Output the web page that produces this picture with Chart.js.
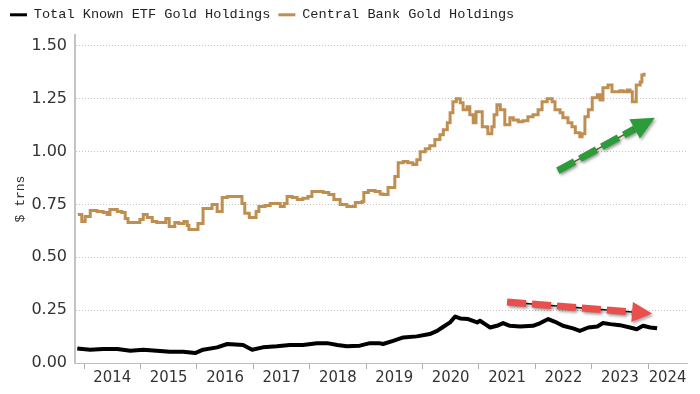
<!DOCTYPE html>
<html><head><meta charset="utf-8">
<script src="https://cdn.jsdelivr.net/npm/chart.js@4.4.1/dist/chart.umd.min.js"></script>
<style>html,body{margin:0;padding:0;background:#fff;}#wrap{width:700px;height:394px;}</style>
</head><body><div id="wrap"><canvas id="c" width="700" height="394"></canvas></div>
<script>
// ---- data (decimal years, $ trillions) ----
const seriesNames = ['Total Known ETF Gold Holdings', 'Central Bank Gold Holdings'];
const etfDates = [2013.88,2014.11,2014.34,2014.59,2014.82,2015.05,2015.29,2015.52,2015.76,2015.97,2016.11,2016.36,2016.54,2016.82,2016.98,2017.17,2017.42,2017.65,2017.88,2018.13,2018.31,2018.49,2018.66,2018.89,2019.07,2019.25,2019.30,2019.48,2019.66,2019.90,2020.13,2020.26,2020.35,2020.49,2020.58,2020.67,2020.81,2020.97,2021.02,2021.11,2021.20,2021.32,2021.43,2021.55,2021.73,2021.96,2022.09,2022.23,2022.35,2022.49,2022.67,2022.79,2022.94,2023.10,2023.20,2023.33,2023.50,2023.68,2023.80,2023.91,2024.04,2024.16];
const etfValues = [0.069,0.063,0.066,0.066,0.058,0.063,0.058,0.053,0.053,0.047,0.063,0.074,0.090,0.085,0.063,0.074,0.079,0.085,0.085,0.093,0.094,0.085,0.079,0.082,0.094,0.093,0.090,0.105,0.121,0.126,0.137,0.152,0.168,0.192,0.220,0.211,0.208,0.192,0.200,0.184,0.168,0.176,0.189,0.176,0.173,0.176,0.189,0.208,0.195,0.176,0.164,0.152,0.168,0.173,0.189,0.184,0.179,0.168,0.160,0.176,0.168,0.164];
const goldDates = [2013.89,2013.96,2014.02,2014.11,2014.23,2014.34,2014.41,2014.46,2014.59,2014.67,2014.73,2014.78,2014.90,2014.99,2015.05,2015.12,2015.21,2015.29,2015.38,2015.45,2015.51,2015.61,2015.68,2015.77,2015.83,2015.86,2015.99,2016.02,2016.11,2016.20,2016.27,2016.32,2016.36,2016.41,2016.45,2016.54,2016.64,2016.73,2016.80,2016.85,2016.93,2017.00,2017.05,2017.10,2017.21,2017.30,2017.42,2017.48,2017.55,2017.60,2017.69,2017.78,2017.88,2017.97,2018.04,2018.15,2018.24,2018.34,2018.43,2018.54,2018.66,2018.77,2018.81,2018.93,2018.96,2019.04,2019.16,2019.25,2019.30,2019.39,2019.51,2019.57,2019.66,2019.74,2019.83,2019.90,2019.96,2020.05,2020.13,2020.22,2020.31,2020.37,2020.44,2020.49,2020.54,2020.60,2020.67,2020.72,2020.79,2020.84,2020.90,2020.95,2021.00,2021.06,2021.15,2021.16,2021.23,2021.27,2021.32,2021.38,2021.43,2021.46,2021.55,2021.61,2021.70,2021.78,2021.87,2021.96,2022.05,2022.12,2022.21,2022.30,2022.35,2022.44,2022.49,2022.58,2022.65,2022.71,2022.79,2022.83,2022.88,2022.94,2023.01,2023.10,2023.15,2023.20,2023.29,2023.36,2023.45,2023.50,2023.56,2023.63,2023.68,2023.72,2023.77,2023.79,2023.86,2023.89,2023.93];
const goldValues = [0.703,0.670,0.693,0.722,0.717,0.712,0.703,0.726,0.717,0.712,0.684,0.665,0.665,0.679,0.703,0.689,0.670,0.665,0.665,0.684,0.646,0.665,0.660,0.670,0.651,0.632,0.632,0.660,0.731,0.731,0.750,0.750,0.717,0.717,0.783,0.788,0.788,0.788,0.755,0.708,0.689,0.689,0.717,0.741,0.745,0.755,0.755,0.741,0.755,0.788,0.783,0.774,0.779,0.788,0.811,0.811,0.807,0.797,0.774,0.750,0.741,0.741,0.759,0.764,0.807,0.816,0.811,0.800,0.797,0.830,0.882,0.948,0.953,0.948,0.939,0.962,1.000,1.014,1.028,1.057,1.080,1.104,1.137,1.184,1.236,1.250,1.231,1.198,1.212,1.175,1.137,1.189,1.189,1.118,1.113,1.085,1.118,1.175,1.222,1.198,1.198,1.127,1.160,1.150,1.141,1.146,1.165,1.175,1.198,1.236,1.250,1.236,1.198,1.184,1.160,1.137,1.118,1.090,1.071,1.085,1.165,1.198,1.255,1.269,1.245,1.302,1.316,1.283,1.283,1.288,1.283,1.292,1.283,1.236,1.236,1.316,1.330,1.363,1.373];
const yearTicks = [2014,2015,2016,2017,2018,2019,2020,2021,2022,2023,2024];
const yTicks = [0,0.25,0.5,0.75,1.0,1.25,1.5];
const xRange = [2013.84, 2024.69];
const yRange = [0, 1.552];
// arrows: [fromYear, fromValue, toYear, toValue]
const greenArrow = [2022.40, 0.910, 2024.12, 1.160];
const redArrow = [2021.50, 0.289, 2024.07, 0.234];

const colors = {etf:'#000000', gold:'#bf8f52', green:'#2c9c3a', red:'#ea4f4b'};

// label positions: centre of the visible part of each year
const labelPos = yearTicks.map(y => (Math.max(y, xRange[0]) + Math.min(y + 1, xRange[1])) / 2)
  .filter(p => p < xRange[1]);

const legendGap = {
  id:'legendGap',
  beforeLayout(chart){
    const lg = chart.legend;
    if (lg && !lg._patched){
      const f = lg.fit;
      lg.fit = function(){ f.call(this); this.height = 35; };
      lg._patched = true;
    }
  }
};

function drawArrow(ctx, x1, y1, x2, y2, color, core, L, W){
  const ang = Math.atan2(y2 - y1, x2 - x1);
  const bx = x2 - L * Math.cos(ang), by = y2 - L * Math.sin(ang);
  ctx.save();
  ctx.shadowColor = 'rgba(0,0,0,0.35)';
  ctx.shadowBlur = 3; ctx.shadowOffsetX = 1.5; ctx.shadowOffsetY = 2;
  ctx.strokeStyle = core; ctx.lineWidth = 1.5;
  ctx.beginPath(); ctx.moveTo(x1, y1); ctx.lineTo(bx, by); ctx.stroke();
  ctx.strokeStyle = color; ctx.lineWidth = 7; ctx.setLineDash([19, 6]); ctx.lineCap = 'butt';
  ctx.beginPath(); ctx.moveTo(x1, y1); ctx.lineTo(bx, by); ctx.stroke();
  ctx.setLineDash([]);
  ctx.fillStyle = color;
  ctx.beginPath();
  ctx.moveTo(x2, y2);
  ctx.lineTo(bx + W * Math.sin(ang), by - W * Math.cos(ang));
  ctx.lineTo(bx - W * Math.sin(ang), by + W * Math.cos(ang));
  ctx.closePath(); ctx.fill();
  ctx.restore();
}

const arrowPlugin = {
  id:'arrows',
  afterDatasetsDraw(chart){
    const {ctx, scales:{x, y}} = chart;
    const px = a => [x.getPixelForValue(a[0]), y.getPixelForValue(a[1]), x.getPixelForValue(a[2]), y.getPixelForValue(a[3])];
    const g = px(greenArrow), r = px(redArrow);
    drawArrow(ctx, g[0], g[1], g[2], g[3], colors.green, '#6b5a2a', 23, 11);
    drawArrow(ctx, r[0], r[1], r[2], r[3], colors.red, '#111', 20, 10);
  }
};

new Chart(document.getElementById('c'), {
  type:'line',
  data:{datasets:[
    {label:seriesNames[0], data:etfDates.map((d,i)=>({x:d, y:etfValues[i]})),
     borderColor:colors.etf, backgroundColor:colors.etf, borderWidth:4, pointRadius:0, tension:0, borderJoinStyle:'round'},
    {label:seriesNames[1], data:goldDates.map((d,i)=>({x:d, y:goldValues[i]})),
     borderColor:colors.gold, backgroundColor:colors.gold, borderWidth:3, pointRadius:0, stepped:true}
  ]},
  options:{
    responsive:false, animation:false,
    layout:{padding:{left:2, right:13, top:0, bottom:0}},
    plugins:{
      tooltip:{enabled:false},
      legend:{
        position:'top', align:'start',
        labels:{
          boxWidth:17, boxHeight:3, padding:8, color:'#222',
          font:{family:"'Liberation Mono', 'DejaVu Sans Mono', monospace", size:13.6},
          generateLabels: chart => chart.data.datasets.map((d,i)=>({
            text:d.label, fillStyle:d.borderColor, strokeStyle:d.borderColor, lineWidth:0, hidden:false, datasetIndex:i, fontColor:'#222'
          }))
        }
      }
    },
    scales:{
      x:{
        type:'linear', position:'bottom', min:xRange[0], max:xRange[1], bounds:'data',
        afterBuildTicks: s => { s.ticks = yearTicks.map(v=>({value:v})).concat(labelPos.map(v=>({value:v}))).sort((a,b)=>a.value-b.value); },
        afterFit: s => { s.height = 31; },
        ticks:{
          autoSkip:false, maxRotation:0, padding:-1, color:'#333',
          font:{family:"'Liberation Sans Narrow', 'DejaVu Sans Condensed', sans-serif", size:16.5},
          callback: v => Number.isInteger(v) ? '' : String(Math.floor(v))
        },
        grid:{
          drawOnChartArea:false, drawTicks:true, tickLength:6, tickWidth:1,
          color: c => (c.tick && Number.isInteger(c.tick.value)) ? '#b0b0b0' : 'rgba(0,0,0,0)',
          tickColor: c => (c.tick && Number.isInteger(c.tick.value)) ? '#b0b0b0' : 'rgba(0,0,0,0)'
        },
        border:{display:true, color:'#bdbdbd', width:1}
      },
      y:{
        type:'linear', position:'left', min:yRange[0], max:yRange[1], bounds:'data',
        afterBuildTicks: s => { s.ticks = yTicks.map(v=>({value:v})); },
        afterFit: s => { s.width = 73; },
        ticks:{
          padding:8, color:'#333',
          font:{family:"'DejaVu Sans', sans-serif", size:16},
          callback: v => v.toFixed(2)
        },
        grid:{color:'#c4c4c4', lineWidth:1, drawTicks:false},
        border:{display:true, color:'#c4c4c4', width:2, dash:[1,2]},
        title:{display:true, text:'$ trns', color:'#333', padding:{top:11, bottom:0},
          font:{family:"'Liberation Mono', 'DejaVu Sans Mono', monospace", size:13}}
      }
    }
  },
  plugins:[legendGap, arrowPlugin]
});
</script>
</body></html>
